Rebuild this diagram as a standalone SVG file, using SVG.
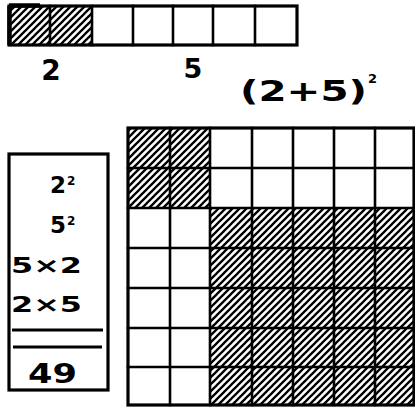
<svg xmlns="http://www.w3.org/2000/svg" width="415" height="410" viewBox="0 0 415 410">
<defs>
<pattern id="hatch" patternUnits="userSpaceOnUse" width="7" height="7">
<path d="M-1,8 L8,-1 M-4,4 L4,-4 M3,11 L11,3" stroke="#000" stroke-width="2.3"/>
</pattern>
</defs>
<style>
.ln{stroke:#000;stroke-width:2.6;fill:none;stroke-linecap:square}
.bd{stroke:#000;stroke-width:3.2;fill:none}
.t{font-family:"DejaVu Sans","Liberation Sans",sans-serif;font-weight:bold;fill:#000}
</style>
<rect width="415" height="410" fill="#fff"/>

<g id="strip">
<rect x="9" y="6" width="83" height="39" fill="url(#hatch)"/>
<rect x="9" y="6" width="288" height="39" class="bd"/>
<path class="ln" d="M50,6V45M92,6V45M133,6V45M173,6V45M213,6V45M255,6V45"/>
<path d="M9,5.5H40M9.5,6V45" stroke="#000" stroke-width="4.5"/>
</g>

<g id="label-2"><text class="t" x="51" y="80" font-size="28" text-anchor="middle">2</text></g>
<g id="label-5"><text class="t" x="193" y="78" font-size="27" text-anchor="middle">5</text></g>

<g id="title">
<text class="t" x="240" y="101" font-size="28" textLength="127" lengthAdjust="spacingAndGlyphs">(2+5)</text>
<text class="t" x="368" y="83" font-size="13">2</text>
</g>

<g id="grid">
<rect x="128" y="128" width="82" height="80" fill="url(#hatch)"/>
<rect x="210" y="208" width="204" height="197" fill="url(#hatch)"/>
<path class="ln" d="M170,128V405M210,128V405M252,128V405M293,128V405M334,128V405M375,128V405"/>
<path class="ln" d="M128,168H414M128,208H414M128,248H414M128,288H414M128,328H414M128,367H414"/>
<rect x="128" y="128" width="286" height="277" class="bd"/>
</g>

<g id="sumbox">
<rect x="9" y="154" width="99" height="236" class="bd"/>
<text class="t" x="58" y="193" font-size="23" text-anchor="middle">2</text>
<text class="t" x="67" y="185" font-size="12">2</text>
<text class="t" x="58" y="233" font-size="23" text-anchor="middle">5</text>
<text class="t" x="67" y="225" font-size="12">2</text>
<text class="t" x="11" y="273" font-size="22" textLength="71" lengthAdjust="spacingAndGlyphs">5×2</text>
<text class="t" x="11" y="312" font-size="22" textLength="71" lengthAdjust="spacingAndGlyphs">2×5</text>
<path d="M12,330H103M13,347H102" stroke="#000" stroke-width="3.2"/>
<text class="t" x="28" y="383" font-size="26" textLength="49" lengthAdjust="spacingAndGlyphs">49</text>
</g>
</svg>
